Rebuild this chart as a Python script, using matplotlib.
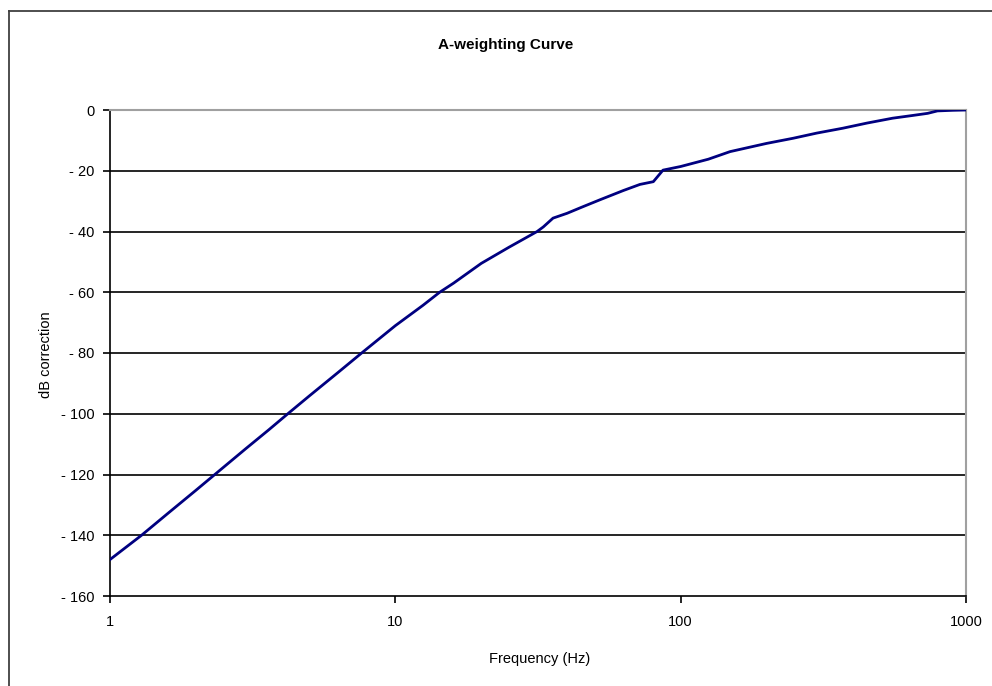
import matplotlib.pyplot as plt
from matplotlib.lines import Line2D
from matplotlib.ticker import FixedLocator, FixedFormatter, NullLocator

# values
freq_hz = [1, 1.29, 1.6, 2.0, 2.33, 3.0, 3.6, 4.2, 5.0, 6.3, 7.62, 10,
           12.5, 14.3, 16, 20, 25, 31.4, 33, 35.7, 40, 45, 52, 63, 72,
           80.2, 86.7, 100, 125, 149, 200, 248, 300, 370, 450, 553,
           650, 734, 794, 900, 1000]
db_corr = [-148.0, -140.0, -132.7, -125.2, -120.0, -111.4, -105.3, -100.0,
           -94.1, -86.4, -80.0, -71.0, -64.3, -60.0, -57.0, -50.5, -45.2,
           -40.0, -38.5, -35.6, -34.0, -32.0, -29.6, -26.5, -24.5, -23.6,
           -19.8, -18.6, -16.2, -13.7, -11.0, -9.3, -7.6, -6.0, -4.3, -2.7,
           -1.8, -1.1, -0.3, -0.1, 0.0]

y_ticks = [0, -20, -40, -60, -80, -100, -120, -140, -160]
x_ticks = [1, 10, 100, 1000]
x_tick_labels = ["1", "10", "100", "1000"]

plt.rcParams['font.family'] = ['Liberation Sans', 'DejaVu Sans']

fig = plt.figure(figsize=(9.92, 6.86), dpi=100)
ax = fig.add_axes([110 / 992, 1 - 596 / 686, 856 / 992, 486 / 686])

for yv in y_ticks[1:-1]:
    ax.axhline(yv, color='black', lw=1.2, zorder=1)

ax.plot(freq_hz, db_corr, color='#000080', lw=2.0, zorder=3)

ax.set_xscale('log')
ax.set_xlim(1, 1000)
ax.set_ylim(-160, 0)
ax.xaxis.set_major_locator(FixedLocator(x_ticks))
ax.xaxis.set_major_formatter(FixedFormatter(x_tick_labels))
ax.xaxis.set_minor_locator(NullLocator())
ax.set_yticks(y_ticks)
ax.set_yticklabels([str(v).replace('-', '- ') for v in y_ticks])

ax.tick_params(axis='both', direction='out', length=5, width=1.2,
               labelsize=10.5, color='black')
ax.tick_params(axis='x', pad=9)
ax.tick_params(axis='y', pad=6)

ax.spines['left'].set_color('black')
ax.spines['bottom'].set_color('black')
ax.spines['left'].set_linewidth(1.2)
ax.spines['bottom'].set_linewidth(1.2)
ax.spines['top'].set_color('#a0a0a0')
ax.spines['right'].set_color('#a0a0a0')
ax.spines['top'].set_linewidth(1.5)
ax.spines['right'].set_linewidth(1.5)

fig.text(506 / 992, 1 - 45 / 686, "A-weighting Curve", ha='center',
         va='center', fontsize=11, fontweight='bold')
fig.text(46 / 992, 1 - 355 / 686, "dB correction", ha='center',
         va='center', rotation=90, fontsize=10.5)
fig.text(540 / 992, 1 - 659 / 686, "Frequency (Hz)", ha='center',
         va='center', fontsize=10.5)

# outer chart frame (right and bottom edges fall outside the image)
fig.add_artist(Line2D([9 / 992, 9 / 992], [0, 1 - 11 / 686],
                      transform=fig.transFigure, color='#404040', lw=1.3))
fig.add_artist(Line2D([9 / 992, 1], [1 - 11 / 686, 1 - 11 / 686],
                      transform=fig.transFigure, color='#404040', lw=1.3))

fig.savefig("out.png", dpi=100)
